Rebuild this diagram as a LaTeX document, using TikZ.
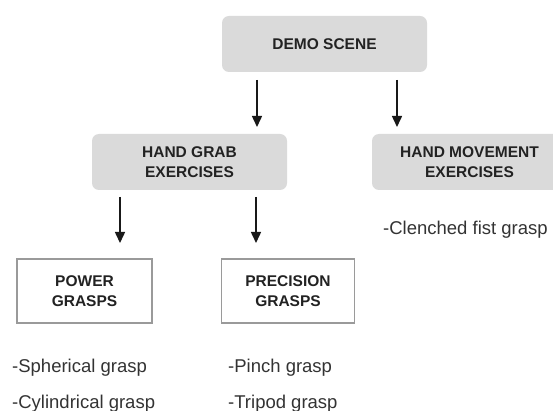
\documentclass[tikz,border=0pt]{standalone}
\usepackage{fontspec}
\setmainfont{Liberation Sans}
\usetikzlibrary{arrows.meta}
\definecolor{boxgray}{HTML}{DADADA}
\definecolor{edgegray}{HTML}{9A9A9A}
\definecolor{txtdark}{HTML}{222222}
\definecolor{txtlist}{HTML}{333333}
\tikzset{
  graybox/.style={rectangle, rounded corners=7pt, fill=boxgray, draw=none,
    minimum height=56pt, inner sep=0pt, align=center, text=txtdark,
    font=\fontsize{15.5}{19.5}\selectfont\bfseries},
  whitebox/.style={rectangle, draw=edgegray, line width=1.4pt, fill=white,
    minimum height=64pt, inner sep=0pt, align=center, text=txtdark,
    font=\fontsize{15.5}{20}\selectfont\bfseries},
  listtext/.style={anchor=base west, inner sep=0pt, text=txtlist,
    font=\fontsize{18.5}{22}\selectfont},
  arr/.style={-{Triangle[length=11pt,width=10pt]}, line width=1.5pt, color=black!90}
}
\begin{document}
\begin{tikzpicture}[x=1pt,y=-1pt]
\clip (0,0) rectangle (553,411);
\fill[white] (0,0) rectangle (553,411);

\node[graybox, minimum width=205pt] (demo) at (324.5,44) {DEMO SCENE};
\node[graybox, minimum width=195pt] (grab) at (189.5,162) {HAND GRAB\\EXERCISES};
\node[graybox, minimum width=195pt] (move) at (469.5,162) {HAND MOVEMENT\\EXERCISES};
\node[whitebox, minimum width=135pt] (power) at (84.5,291) {POWER\\GRASPS};
\node[whitebox, minimum width=133pt] (prec) at (288,291) {PRECISION\\GRASPS};

\node[listtext] (clench) at (383,235) {-Clenched fist grasp};
\node[listtext] (sph) at (12,372) {-Spherical grasp};
\node[listtext] (cyl) at (12,408) {-Cylindrical grasp};
\node[listtext] (pinch) at (228,372) {-Pinch grasp};
\node[listtext] (trip) at (228,408) {-Tripod grasp};

\coordinate (d1s) at (257,80);  \coordinate (d1e) at (257,127);
\coordinate (d2s) at (397,80);  \coordinate (d2e) at (397,127);
\coordinate (g1s) at (120,197); \coordinate (g1e) at (120,243);
\coordinate (g2s) at (256,197); \coordinate (g2e) at (256,243);

\draw[arr] (d1s) -- (d1e);
\draw[arr] (d2s) -- (d2e);
\draw[arr] (g1s) -- (g1e);
\draw[arr] (g2s) -- (g2e);
\end{tikzpicture}
\end{document}
